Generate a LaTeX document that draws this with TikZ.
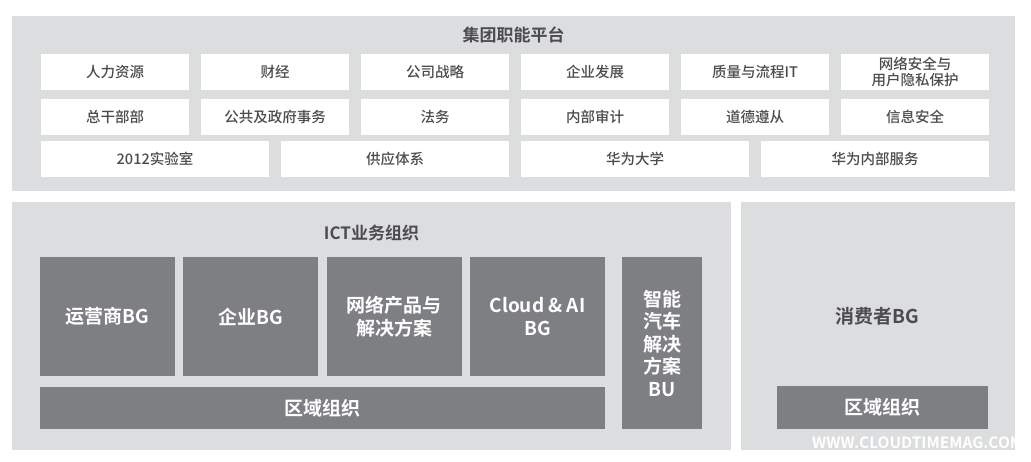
\documentclass[tikz,border=0pt]{standalone}
\usepackage{fontspec}
\setmainfont{Noto Sans CJK SC}[BoldFont={Noto Sans CJK SC Bold}]
\newfontfamily\medfont{Noto Sans CJK SC Medium}
\usepackage{xcolor}
\usetikzlibrary{positioning}
\definecolor{panelgray}{HTML}{DCDDDE}
\definecolor{boxgray}{HTML}{7E7F83}
\definecolor{textgray}{HTML}{4C4C4F}

\begin{document}
\begin{tikzpicture}[
    x=1pt, y=-1pt,
    node distance=12pt,
    panel/.style={rectangle, fill=panelgray, inner sep=0pt, outer sep=0pt, anchor=north west},
    cell/.style={rectangle, fill=white, minimum width=148pt, minimum height=36pt, inner sep=0pt, outer sep=0pt, text=textgray, font=\medfont\fontsize{14.5}{16.5}\selectfont, align=center},
    wcell/.style={cell, minimum width=228pt},
    unit/.style={rectangle, fill=boxgray, minimum width=135pt, minimum height=119pt, inner sep=0pt, outer sep=0pt, text=white, font=\bfseries\fontsize{19}{22.5}\selectfont, align=center},
    heading/.style={text=textgray, inner sep=0pt, font=\bfseries\fontsize{17}{20}\selectfont}
]
\useasboundingbox (0,0) rectangle (1031,461);

\node[panel, minimum width=1003pt, minimum height=175pt] (jtpanel) at (12,16) {};
\node[heading] (jttitle) at (513.5,35) {集团职能平台};

\node[cell, anchor=north west] (hr) at (41,54) {人力资源};
\node[cell, right=of hr] (fin) {财经};
\node[cell, right=of fin] (strat) {公司战略};
\node[cell, right=of strat] (corpdev) {企业发展};
\node[cell, right=of corpdev] (qit) {质量与流程IT};
\node[cell, right=of qit] (privacy) {网络安全与\\用户隐私保护};

\node[cell, below=9pt of hr] (cadre) {总干部部};
\node[cell, right=of cadre] (pgaf) {公共及政府事务};
\node[cell, right=of pgaf] (legal) {法务};
\node[cell, right=of legal] (audit) {内部审计};
\node[cell, right=of audit] (ethics) {道德遵从};
\node[cell, right=of ethics] (infosec) {信息安全};

\node[wcell, anchor=north west] (lab) at (41,141) {2012实验室};
\node[wcell, right=of lab] (supply) {供应体系};
\node[wcell, right=of supply] (univ) {华为大学};
\node[wcell, right=of univ] (service) {华为内部服务};

\node[panel, minimum width=719pt, minimum height=248pt] (ictpanel) at (12,202) {};
\node[panel, minimum width=274pt, minimum height=248pt] (cbgpanel) at (741,202) {};
\node[heading] (icttitle) at (371.5,233) {ICT业务组织};

\node[unit, anchor=north west] (carrier) at (40,257) {运营商BG};
\node[unit, right=8.33pt of carrier] (ent) {企业BG};
\node[unit, right=8.33pt of ent] (netsol) {网络产品与\\解决方案};
\node[unit, right=8.33pt of netsol] (cloud) {Cloud \& AI\\BG};
\node[unit, anchor=north west, minimum width=80pt, minimum height=172pt] (auto) at (622,257) {智能\\汽车\\解决\\方案\\BU};
\node[unit, anchor=north west, minimum width=565pt, minimum height=42pt] (ictregion) at (40,387) {区域组织};

\node[heading, font=\bfseries\fontsize{19}{22}\selectfont] (cbg) at (877,316) {消费者BG};
\node[unit, anchor=north west, minimum width=211pt, minimum height=43pt] (cbgregion) at (777,386) {区域组织};

\node[anchor=west, inner sep=0pt, text=white, font=\bfseries\fontsize{15.5}{17}\selectfont] (mark) at (812,443) {WWW.CLOUDTIMEMAG.COM};
\end{tikzpicture}
\end{document}
